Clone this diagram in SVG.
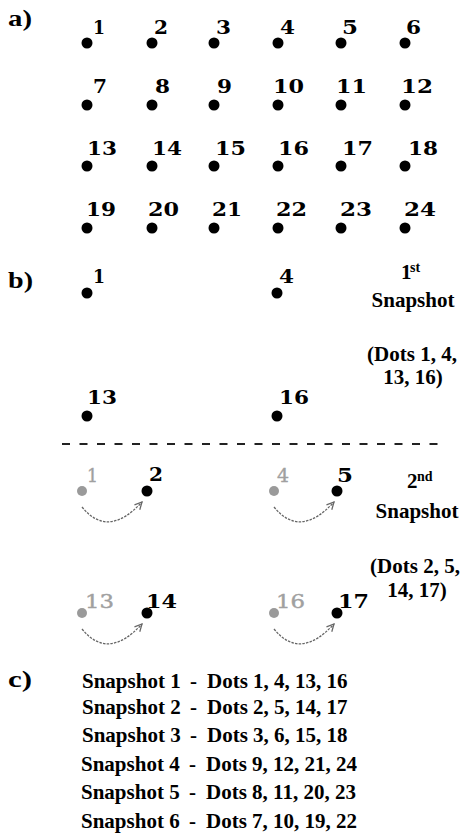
<svg xmlns="http://www.w3.org/2000/svg" width="462" height="837" viewBox="0 0 462 837">
<style>
.dot{fill:#000}
.gdot{fill:#9a9a9a}
.num{font-family:"DejaVu Serif",serif;font-weight:bold;font-size:18px;fill:#000}
.gnum{font-family:"DejaVu Serif",serif;font-weight:normal;font-size:18px;fill:#a0a0a0;stroke:#a0a0a0;stroke-width:0.4}
.sec{font-family:"Liberation Serif",serif;font-weight:bold;font-size:24px;fill:#000}
.t{font-family:"Liberation Serif",serif;font-weight:bold;font-size:21px;fill:#000}
.sup{font-family:"Liberation Serif",serif;font-weight:bold;font-size:14px;fill:#000}
.arc{fill:none;stroke:#666;stroke-width:1.3;stroke-dasharray:2.5 1.2}
.sep{stroke:#222;stroke-width:2;stroke-dasharray:8 9.5}
</style>
<defs>
<marker id="ah" viewBox="0 0 10 10" refX="9" refY="5" markerWidth="9" markerHeight="9" markerUnits="userSpaceOnUse" orient="auto">
<path d="M1,1 L9,5 L1,9" fill="none" stroke="#666" stroke-width="1.4"/>
</marker>
</defs>
<rect width="462" height="837" fill="#fff"/>
<text class="sec" x="8" y="26" textLength="24" lengthAdjust="spacingAndGlyphs">a)</text>
<g id="grid">
<g id="d1"><circle class="dot" cx="87" cy="43" r="5.5"/><text class="num" x="93" y="34" textLength="12" lengthAdjust="spacingAndGlyphs">1</text></g>
<g id="d2"><circle class="dot" cx="152" cy="43" r="5.5"/><text class="num" x="154" y="34" textLength="14" lengthAdjust="spacingAndGlyphs">2</text></g>
<g id="d3"><circle class="dot" cx="214" cy="43" r="5.5"/><text class="num" x="216" y="34" textLength="15" lengthAdjust="spacingAndGlyphs">3</text></g>
<g id="d4"><circle class="dot" cx="278" cy="43" r="5.5"/><text class="num" x="280" y="34" textLength="15" lengthAdjust="spacingAndGlyphs">4</text></g>
<g id="d5"><circle class="dot" cx="341" cy="43" r="5.5"/><text class="num" x="342" y="34" textLength="16" lengthAdjust="spacingAndGlyphs">5</text></g>
<g id="d6"><circle class="dot" cx="405" cy="43" r="5.5"/><text class="num" x="406" y="34" textLength="15" lengthAdjust="spacingAndGlyphs">6</text></g>
<g id="d7"><circle class="dot" cx="87" cy="105" r="5.5"/><text class="num" x="93" y="93" textLength="14" lengthAdjust="spacingAndGlyphs">7</text></g>
<g id="d8"><circle class="dot" cx="152" cy="105" r="5.5"/><text class="num" x="155" y="93" textLength="15" lengthAdjust="spacingAndGlyphs">8</text></g>
<g id="d9"><circle class="dot" cx="214" cy="105" r="5.5"/><text class="num" x="217" y="93" textLength="15" lengthAdjust="spacingAndGlyphs">9</text></g>
<g id="d10"><circle class="dot" cx="278" cy="105" r="5.5"/><text class="num" x="273" y="93" textLength="31" lengthAdjust="spacingAndGlyphs">10</text></g>
<g id="d11"><circle class="dot" cx="341" cy="105" r="5.5"/><text class="num" x="336" y="93" textLength="31" lengthAdjust="spacingAndGlyphs">11</text></g>
<g id="d12"><circle class="dot" cx="405" cy="105" r="5.5"/><text class="num" x="401" y="93" textLength="32" lengthAdjust="spacingAndGlyphs">12</text></g>
<g id="d13"><circle class="dot" cx="87" cy="166" r="5.5"/><text class="num" x="87" y="155" textLength="30" lengthAdjust="spacingAndGlyphs">13</text></g>
<g id="d14"><circle class="dot" cx="152" cy="166" r="5.5"/><text class="num" x="152" y="155" textLength="30" lengthAdjust="spacingAndGlyphs">14</text></g>
<g id="d15"><circle class="dot" cx="214" cy="166" r="5.5"/><text class="num" x="215" y="155" textLength="31" lengthAdjust="spacingAndGlyphs">15</text></g>
<g id="d16"><circle class="dot" cx="278" cy="166" r="5.5"/><text class="num" x="278" y="155" textLength="31" lengthAdjust="spacingAndGlyphs">16</text></g>
<g id="d17"><circle class="dot" cx="341" cy="166" r="5.5"/><text class="num" x="342" y="155" textLength="31" lengthAdjust="spacingAndGlyphs">17</text></g>
<g id="d18"><circle class="dot" cx="405" cy="166" r="5.5"/><text class="num" x="408" y="155" textLength="30" lengthAdjust="spacingAndGlyphs">18</text></g>
<g id="d19"><circle class="dot" cx="87" cy="228" r="5.5"/><text class="num" x="86" y="216" textLength="30" lengthAdjust="spacingAndGlyphs">19</text></g>
<g id="d20"><circle class="dot" cx="152" cy="228" r="5.5"/><text class="num" x="148" y="216" textLength="31" lengthAdjust="spacingAndGlyphs">20</text></g>
<g id="d21"><circle class="dot" cx="214" cy="228" r="5.5"/><text class="num" x="212" y="216" textLength="30" lengthAdjust="spacingAndGlyphs">21</text></g>
<g id="d22"><circle class="dot" cx="278" cy="228" r="5.5"/><text class="num" x="276" y="216" textLength="31" lengthAdjust="spacingAndGlyphs">22</text></g>
<g id="d23"><circle class="dot" cx="341" cy="228" r="5.5"/><text class="num" x="340" y="216" textLength="32" lengthAdjust="spacingAndGlyphs">23</text></g>
<g id="d24"><circle class="dot" cx="405" cy="228" r="5.5"/><text class="num" x="404" y="216" textLength="32" lengthAdjust="spacingAndGlyphs">24</text></g>
</g>
<text class="sec" x="8" y="288" textLength="25" lengthAdjust="spacingAndGlyphs">b)</text>
<g id="snap1">
<g id="s1d1"><circle class="dot" cx="87" cy="293" r="5.5"/><text class="num" x="93" y="283" textLength="12" lengthAdjust="spacingAndGlyphs">1</text></g>
<g id="s1d4"><circle class="dot" cx="277" cy="293" r="5.5"/><text class="num" x="279" y="283" textLength="15" lengthAdjust="spacingAndGlyphs">4</text></g>
<g id="s1d13"><circle class="dot" cx="87" cy="416" r="5.5"/><text class="num" x="87" y="404" textLength="30" lengthAdjust="spacingAndGlyphs">13</text></g>
<g id="s1d16"><circle class="dot" cx="277" cy="416" r="5.5"/><text class="num" x="279" y="404" textLength="30" lengthAdjust="spacingAndGlyphs">16</text></g>
<g id="s1label">
<text class="t" x="401" y="279">1</text><text class="sup" x="410" y="272">st</text>
<text class="t" x="413" y="307" text-anchor="middle">Snapshot</text>
<text class="t" x="412" y="361" text-anchor="middle">(Dots 1, 4,</text>
<text class="t" x="413" y="384" text-anchor="middle">13, 16)</text>
</g>
</g>
<line class="sep" x1="62" y1="444" x2="446" y2="444"/>
<g id="snap2">
<g id="s2g1"><circle class="gdot" cx="82" cy="491" r="5"/><text class="gnum" x="87" y="482" textLength="11" lengthAdjust="spacingAndGlyphs">1</text></g>
<g id="s2d2"><circle class="dot" cx="147" cy="491" r="5.5"/><text class="num" x="149" y="481" textLength="14" lengthAdjust="spacingAndGlyphs">2</text></g>
<g id="s2g4"><circle class="gdot" cx="274" cy="491" r="5"/><text class="gnum" x="277" y="482" textLength="12" lengthAdjust="spacingAndGlyphs">4</text></g>
<g id="s2d5"><circle class="dot" cx="337" cy="491" r="5.5"/><text class="num" x="337" y="482" textLength="16" lengthAdjust="spacingAndGlyphs">5</text></g>
<g id="s2g13"><circle class="gdot" cx="82" cy="613" r="5"/><text class="gnum" x="85" y="608" textLength="29" lengthAdjust="spacingAndGlyphs">13</text></g>
<g id="s2d14"><circle class="dot" cx="147" cy="613" r="5.5"/><text class="num" x="146" y="608" textLength="31" lengthAdjust="spacingAndGlyphs">14</text></g>
<g id="s2g16"><circle class="gdot" cx="274" cy="613" r="5"/><text class="gnum" x="276" y="608" textLength="29" lengthAdjust="spacingAndGlyphs">16</text></g>
<g id="s2d17"><circle class="dot" cx="337" cy="613" r="5.5"/><text class="num" x="338" y="608" textLength="31" lengthAdjust="spacingAndGlyphs">17</text></g>
<g id="s2label">
<text class="t" x="407" y="488">2</text><text class="sup" x="417" y="481">nd</text>
<text class="t" x="417" y="518" text-anchor="middle">Snapshot</text>
<text class="t" x="415" y="573" text-anchor="middle">(Dots 2, 5,</text>
<text class="t" x="417" y="597" text-anchor="middle">14, 17)</text>
</g>
</g>
<g id="connectors">
<path class="arc" d="M82,507 Q108,539 142,502" marker-end="url(#ah)"/>
<path class="arc" d="M274,507 Q300,539 334,502" marker-end="url(#ah)"/>
<path class="arc" d="M82,629 Q108,661 142,624" marker-end="url(#ah)"/>
<path class="arc" d="M274,629 Q300,661 334,624" marker-end="url(#ah)"/>
</g>
<text class="sec" x="8" y="687" textLength="24" lengthAdjust="spacingAndGlyphs">c)</text>
<g id="list">
<text class="t" y="688"><tspan x="82">Snapshot 1</tspan><tspan x="190">-</tspan><tspan x="207">Dots 1, 4, 13, 16</tspan></text>
<text class="t" y="714"><tspan x="82">Snapshot 2</tspan><tspan x="190">-</tspan><tspan x="207">Dots 2, 5, 14, 17</tspan></text>
<text class="t" y="742"><tspan x="82">Snapshot 3</tspan><tspan x="190">-</tspan><tspan x="207">Dots 3, 6, 15, 18</tspan></text>
<text class="t" y="771"><tspan x="81">Snapshot 4</tspan><tspan x="189">-</tspan><tspan x="206">Dots 9, 12, 21, 24</tspan></text>
<text class="t" y="799"><tspan x="81">Snapshot 5</tspan><tspan x="189">-</tspan><tspan x="206">Dots 8, 11, 20, 23</tspan></text>
<text class="t" y="828"><tspan x="81">Snapshot 6</tspan><tspan x="189">-</tspan><tspan x="206">Dots 7, 10, 19, 22</tspan></text>
</g>
</svg>
